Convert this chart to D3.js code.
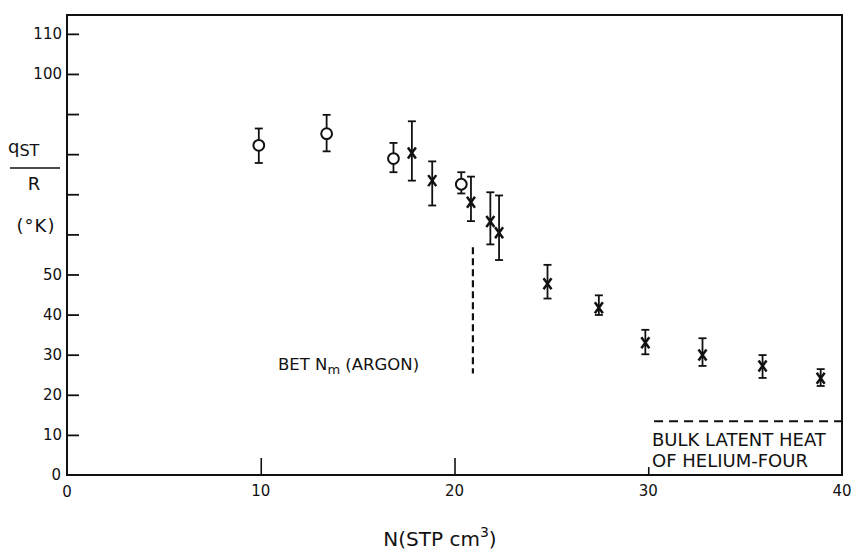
<!DOCTYPE html>
<html>
<head>
<meta charset="utf-8">
<script src="https://cdn.jsdelivr.net/npm/d3@7"></script>
<style>
  html, body { margin: 0; padding: 0; background: #fff; }
  svg { display: block; }
  text { font-family: "DejaVu Sans", "Liberation Sans", sans-serif; fill: #111; }
</style>
</head>
<body>
<svg id="chart" width="855" height="552"></svg>
<script>
// Isosteric heat of helium-four, open circles and crosses with error bars
const circleN  = [9.9, 13.4, 16.85, 20.35];
const circleQ  = [82.2, 85.1, 78.9, 72.5];
const circleHi = [86.4, 89.8, 82.8, 75.5];
const circleLo = [77.8, 80.7, 75.5, 70.2];

const crossN  = [17.8, 18.85, 20.85, 21.85, 22.3, 24.8, 27.45, 29.85, 32.8, 35.9, 38.9];
const crossQ  = [80.3, 73.4, 68.0, 63.2, 60.4, 47.7, 41.7, 33.0, 29.9, 27.2, 24.1];
const crossHi = [88.2, 78.2, 74.4, 70.5, 69.7, 52.4, 44.8, 36.2, 34.1, 29.9, 26.4];
const crossLo = [73.4, 67.2, 63.3, 57.5, 53.6, 44.0, 39.9, 30.1, 27.2, 24.2, 22.2];

// BET monolayer marker and bulk latent heat reference
const betN = 20.95;
const betRange = [25.3, 56.8];
const bulkQ = 13.4;
const bulkRange = [30.3, 40];

const xTicks = [10, 20, 30];
const xTickLabels = [0, 10, 20, 30, 40];
const yTicks = [10, 20, 30, 40, 50, 60, 70, 80, 90, 100, 110];
const yTickLabels = [0, 10, 20, 30, 40, 50, 100, 110];

const svg = d3.select("#chart");
const plotLeft = 67, plotRight = 842, plotTop = 15, plotBottom = 475;

const x = d3.scaleLinear().domain([0, 40]).range([plotLeft, plotRight]);
const y = d3.scaleLinear().domain([0, 114.7]).range([plotBottom, plotTop]);

const ink = "#111";

// frame
svg.append("rect")
  .attr("x", plotLeft).attr("y", plotTop)
  .attr("width", plotRight - plotLeft).attr("height", plotBottom - plotTop)
  .attr("fill", "none").attr("stroke", ink).attr("stroke-width", 2);

// y axis: inward ticks
const yAxis = d3.axisLeft(y).tickValues(yTicks).tickSizeInner(-12).tickSizeOuter(0).tickFormat("");
const gy = svg.append("g").attr("transform", `translate(${plotLeft},0)`).call(yAxis);
gy.select(".domain").remove();
gy.selectAll(".tick line").attr("stroke", ink).attr("stroke-width", 1.8);

// x axis: inward ticks, shorter at 30 where the caption sits
const xAxis = d3.axisBottom(x).tickValues(xTicks).tickSizeInner(-17).tickSizeOuter(0).tickFormat("");
const gx = svg.append("g").attr("transform", `translate(0,${plotBottom})`).call(xAxis);
gx.select(".domain").remove();
gx.selectAll(".tick line").attr("stroke", ink).attr("stroke-width", 1.6)
  .attr("y2", d => d === 30 ? -8 : -17);

// tick labels
svg.append("g").selectAll("text").data(yTickLabels).join("text")
  .attr("x", d => d === 0 ? plotLeft - 6 : plotLeft - 5)
  .attr("y", d => d === 0 ? y(d) + 5 : y(d) + 5.5)
  .attr("text-anchor", "end")
  .style("font-size", "15px")
  .text(d => d);

svg.append("g").selectAll("text").data(xTickLabels).join("text")
  .attr("x", d => x(d))
  .attr("y", d => d === 0 ? plotBottom + 22 : plotBottom + 21)
  .attr("text-anchor", "middle")
  .style("font-size", "15px")
  .text(d => d);

// axis titles
const yt = svg.append("text").attr("x", 8).attr("y", 153).style("font-size", "18px");
yt.append("tspan").text("q");
yt.append("tspan").attr("dy", 3).style("font-size", "16px").text("ST");
svg.append("line").attr("x1", 10).attr("x2", 60).attr("y1", 168).attr("y2", 168)
  .attr("stroke", ink).attr("stroke-width", 1.6);
svg.append("text").attr("x", 34).attr("y", 190).attr("text-anchor", "middle").style("font-size", "18px").text("R");
svg.append("text").attr("x", 36).attr("y", 232).attr("text-anchor", "middle").style("font-size", "18px")
  .style("letter-spacing", "1px").text("(°K)");

const xt = svg.append("text").attr("x", 440).attr("y", 546).attr("text-anchor", "middle").style("font-size", "20px");
xt.append("tspan").text("N(STP cm");
xt.append("tspan").attr("dy", -9).style("font-size", "14px").text("3");
xt.append("tspan").attr("dy", 9).text(")");

// dashed reference lines
svg.append("line")
  .attr("x1", x(betN)).attr("x2", x(betN))
  .attr("y1", y(betRange[1])).attr("y2", y(betRange[0]))
  .attr("stroke", ink).attr("stroke-width", 2.2).attr("stroke-dasharray", "7,4");

svg.append("line")
  .attr("x1", x(bulkRange[0])).attr("x2", x(bulkRange[1]))
  .attr("y1", y(bulkQ)).attr("y2", y(bulkQ))
  .attr("stroke", ink).attr("stroke-width", 2).attr("stroke-dasharray", "9,6");

// annotations
const bet = svg.append("text").attr("x", 278).attr("y", 370).style("font-size", "16.5px");
bet.append("tspan").text("BET N");
bet.append("tspan").attr("dy", 4).style("font-size", "13px").text("m");
bet.append("tspan").attr("dy", -4).text(" (ARGON)");

svg.append("text").attr("x", 652).attr("y", 446).style("font-size", "18px").text("BULK LATENT HEAT");
svg.append("text").attr("x", 652).attr("y", 467).style("font-size", "18px").text("OF HELIUM-FOUR");

// error bars
function errorBars(ns, lo, hi) {
  const g = svg.append("g").attr("stroke", ink).attr("stroke-width", 1.8).attr("fill", "none");
  ns.forEach((n, i) => {
    const cx = x(n);
    g.append("line").attr("x1", cx).attr("x2", cx).attr("y1", y(hi[i])).attr("y2", y(lo[i]));
    g.append("line").attr("x1", cx - 4).attr("x2", cx + 4).attr("y1", y(hi[i])).attr("y2", y(hi[i]));
    g.append("line").attr("x1", cx - 4).attr("x2", cx + 4).attr("y1", y(lo[i])).attr("y2", y(lo[i]));
  });
  return g;
}
errorBars(circleN, circleLo, circleHi);
errorBars(crossN, crossLo, crossHi);

// open circles
svg.append("g").selectAll("circle").data(circleN).join("circle")
  .attr("cx", d => x(d)).attr("cy", (d, i) => y(circleQ[i]))
  .attr("r", 5.4).attr("fill", "#fff").attr("stroke", ink).attr("stroke-width", 2);

// crosses
const cg = svg.append("g").attr("stroke", ink).attr("stroke-width", 2.5);
crossN.forEach((n, i) => {
  const cx = x(n), cy = y(crossQ[i]);
  cg.append("line").attr("x1", cx - 4).attr("x2", cx + 4).attr("y1", cy - 5.5).attr("y2", cy + 5.5);
  cg.append("line").attr("x1", cx + 4).attr("x2", cx - 4).attr("y1", cy - 5.5).attr("y2", cy + 5.5);
});
</script>
</body>
</html>
